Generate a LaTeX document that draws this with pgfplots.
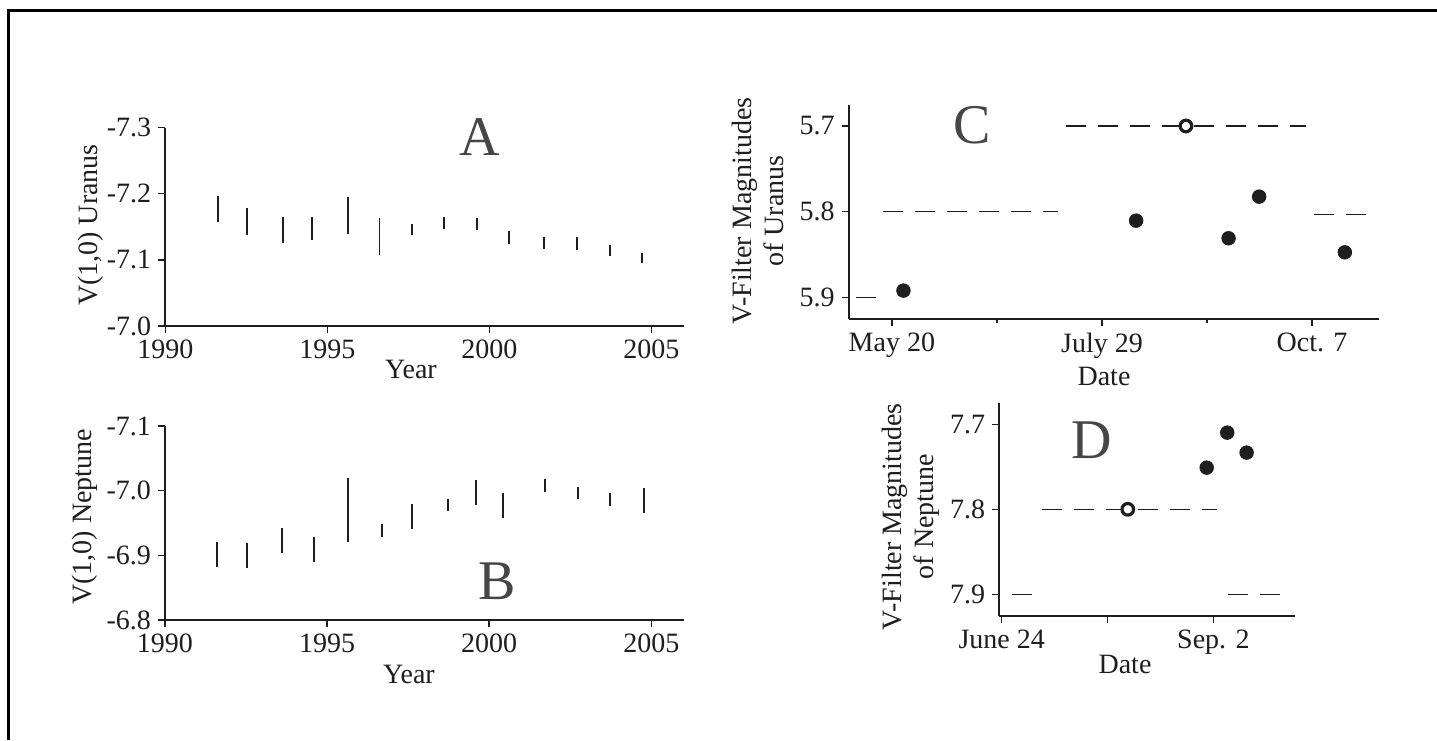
\documentclass[border=0pt]{standalone}
\usepackage{pgfplots}
\pgfplotsset{compat=1.18}
\usepackage{pgfplotstable}
\usepackage{fontspec}
\setmainfont{Liberation Serif}
\definecolor{ink}{RGB}{30,30,30}
\definecolor{lett}{RGB}{70,70,70}

% Panel A: vertical ranges of V(1,0) Uranus (pairs of ends, nan = break)
\pgfplotstableread{
x y
1991.64 -7.197
1991.64 -7.158
nan nan
1992.52 -7.178
1992.52 -7.137
nan nan
1993.63 -7.165
1993.63 -7.126
nan nan
1994.52 -7.165
1994.52 -7.130
nan nan
1995.64 -7.195
1995.64 -7.139
nan nan
1996.61 -7.164
1996.61 -7.108
nan nan
1997.61 -7.155
1997.61 -7.138
nan nan
1998.60 -7.165
1998.60 -7.147
nan nan
1999.61 -7.164
1999.61 -7.145
nan nan
2000.62 -7.144
2000.62 -7.124
nan nan
2001.70 -7.134
2001.70 -7.116
nan nan
2002.71 -7.134
2002.71 -7.115
nan nan
2003.72 -7.122
2003.72 -7.106
nan nan
2004.72 -7.111
2004.72 -7.095
}\uranusA

% Panel B: vertical ranges of V(1,0) Neptune
\pgfplotstableread{
x y
1991.62 -6.921
1991.62 -6.882
nan nan
1992.53 -6.919
1992.53 -6.880
nan nan
1993.62 -6.942
1993.62 -6.903
nan nan
1994.61 -6.928
1994.61 -6.890
nan nan
1995.64 -7.020
1995.64 -6.920
nan nan
1996.70 -6.948
1996.70 -6.929
nan nan
1997.61 -6.980
1997.61 -6.941
nan nan
1998.74 -6.987
1998.74 -6.968
nan nan
1999.60 -7.016
1999.60 -6.978
nan nan
2000.42 -6.997
2000.42 -6.958
nan nan
2001.72 -7.018
2001.72 -6.998
nan nan
2002.74 -7.006
2002.74 -6.987
nan nan
2003.74 -6.996
2003.74 -6.976
nan nan
2004.77 -7.004
2004.77 -6.965
}\neptuneB

% Panel C (x = days after May 20)
\pgfplotstableread{
x y
-11.84 5.9
-5.18 5.9
nan nan
-2.96 5.8
55.5 5.8
nan nan
58.0 5.7
137.9 5.7
nan nan
140.6 5.803
158.4 5.803
}\dashC
\pgfplotstableread{
x y
3.85 5.8922
81.4 5.8105
112.2 5.8311
122.4 5.7825
150.95 5.8475
}\filledC
\pgfplotstableread{
x y
98.0 5.700
}\openC

% Panel D (x = days after June 24)
\pgfplotstableread{
x y
3.3 7.9
9.9 7.9
nan nan
13.2 7.8
71.1 7.8
nan nan
75.0 7.9
92.6 7.9
}\dashD
\pgfplotstableread{
x y
67.8 7.751
74.6 7.7098
81.0 7.7333
}\filledD
\pgfplotstableread{
x y
41.7 7.800
}\openD

\pgfplotsset{
  panel/.style={
    scale only axis, axis lines*=left, tick align=outside,
    axis line style={line width=0.85pt, ink},
    major tick style={line width=0.7pt, ink},
    minor tick style={line width=0.6pt, ink},
    major tick length=3.5pt, minor tick length=2pt,
    tick label style={font=\fontsize{14}{15}\selectfont, text=ink},
    anchor=south west, clip=false, unbounded coords=jump,
  },
  rangeline/.style={ink, line width=0.95pt, mark=none},
  dashl/.style={ink, line width=0.7pt, mark=none, dash pattern=on 10pt off 6pt},
  dot/.style={only marks, mark=*, mark size=3.4pt, mark options={fill=ink, draw=ink}},
  ring/.style={only marks, mark=*, mark size=2.9pt, mark options={fill=white, draw=ink, line width=1.6pt}},
}

\begin{document}
\begin{tikzpicture}
\useasboundingbox (0,0) rectangle (718.5pt,370pt);
\fill[white] (0,0) rectangle (718.5pt,370pt);
% scan frame
\draw[black, line width=1.5pt] (4.15pt,0pt) -- (4.15pt,364.85pt) -- (718.5pt,364.85pt);

% ---------------- Panel A
\begin{axis}[panel, at={(82.65pt,207pt)}, width=259.2pt, height=99.15pt,
  xmin=1990, xmax=2006, y dir=reverse, ymin=-7.3, ymax=-7.0,
  xtick={1990,1995,2000,2005}, xticklabels={1990,1995,2000,2005},
  ytick={-7.3,-7.2,-7.1,-7.0}, yticklabels={-7.3,-7.2,-7.1,-7.0}]
\addplot[rangeline] table[x=x,y=y] {\uranusA};
\end{axis}

% ---------------- Panel B
\begin{axis}[panel, at={(82.45pt,60pt)}, width=259.4pt, height=97pt,
  xmin=1990, xmax=2006, y dir=reverse, ymin=-7.1, ymax=-6.8,
  xtick={1990,1995,2000,2005}, xticklabels={1990,1995,2000,2005},
  ytick={-7.1,-7.0,-6.9,-6.8}, yticklabels={-7.1,-7.0,-6.9,-6.8}]
\addplot[rangeline] table[x=x,y=y] {\neptuneB};
\end{axis}

% ---------------- Panel C
\begin{axis}[panel, at={(424.35pt,210.35pt)}, width=264.95pt, height=107.15pt,
  xmin=-14.4, xmax=162.2, y dir=reverse, ymin=5.6755, ymax=5.9257,
  xtick={0,70,140}, xticklabels={May 20,July 29,Oct. 7}, minor xtick={35,105},
  ytick={5.7,5.8,5.9}, yticklabels={5.7,5.8,5.9}]
\addplot[dashl] table[x=x,y=y] {\dashC};
\addplot[dot] table[x=x,y=y] {\filledC};
\addplot[ring] table[x=x,y=y] {\openC};
\end{axis}

% ---------------- Panel D
\begin{axis}[panel, at={(499.65pt,62pt)}, width=147.85pt, height=106.35pt,
  xmin=-0.8, xmax=97, y dir=reverse, ymin=7.6753, ymax=7.9255,
  xtick={0,35,70}, xticklabels={June 24,,Sep. 2},
  ytick={7.7,7.8,7.9}, yticklabels={7.7,7.8,7.9}]
\addplot[dashl] table[x=x,y=y] {\dashD};
\addplot[dot] table[x=x,y=y] {\filledD};
\addplot[ring] table[x=x,y=y] {\openD};
\end{axis}

% ---------------- labels
\begin{scope}[every node/.style={text=ink, inner sep=0pt}]
\node[text=lett, font=\fontsize{28}{30}\selectfont] at (240pt,301.5pt) {A};
\node[text=lett, font=\fontsize{28}{30}\selectfont] at (248.35pt,79.15pt) {B};
\node[text=lett, font=\fontsize{28}{30}\selectfont] at (486.15pt,307.5pt) {C};
\node[text=lett, font=\fontsize{28}{30}\selectfont] at (545.85pt,150pt) {D};

\node[rotate=90, font=\fontsize{14}{16}\selectfont] at (45.3pt,257.5pt) {V(1,0) Uranus};
\node[rotate=90, font=\fontsize{14}{16}\selectfont] at (42.25pt,111.65pt) {V(1,0) Neptune};
\node[font=\fontsize{14}{15}\selectfont] at (205.5pt,185.5pt) {Year};
\node[font=\fontsize{14}{15}\selectfont] at (204.5pt,33pt) {Year};

\node[rotate=90, align=center, font=\fontsize{14}{15.6}\selectfont] at (379pt,264.5pt) {V-Filter Magnitudes\\of Uranus};
\node[rotate=90, align=center, font=\fontsize{14}{15.8}\selectfont] at (455.4pt,111.65pt) {V-Filter Magnitudes\\of Neptune};
\node[font=\fontsize{14}{15}\selectfont] at (552pt,182pt) {Date};
\node[font=\fontsize{14}{15}\selectfont] at (562.5pt,38pt) {Date};
\end{scope}
\end{tikzpicture}
\end{document}
